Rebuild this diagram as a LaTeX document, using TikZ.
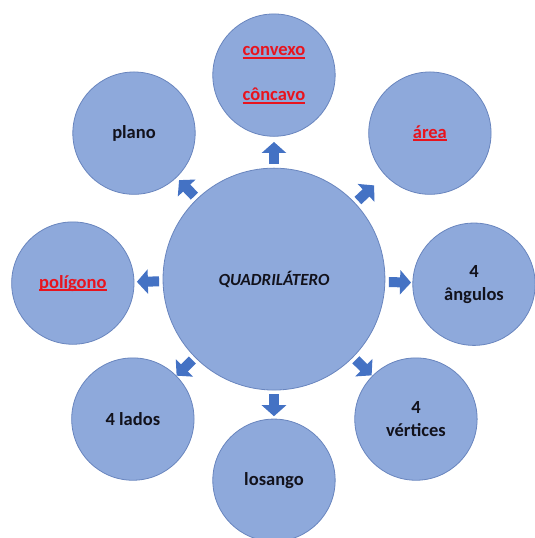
\documentclass[tikz,border=0pt]{standalone}
\usepackage{fontspec}
\setmainfont{Carlito}
\usepackage{xcolor}
\usepackage{tikz}
\usetikzlibrary{arrows.meta,calc}
\definecolor{circfill}{RGB}{142,169,219}
\definecolor{circline}{RGB}{105,133,190}
\definecolor{arrowblue}{RGB}{68,114,196}
\definecolor{txtred}{RGB}{232,20,30}
\definecolor{txtdark}{RGB}{18,18,28}
\newcommand{\redul}[1]{{\color{txtred}\setbox0\hbox{#1}\rlap{\rule[-3pt]{\wd0}{1.6pt}}\box0}}
\newcommand{\bignode}{\node[circle,minimum size=7.8cm,inner sep=0pt,draw=circline,line width=0.8pt,fill=circfill,text=txtdark,font=\fontsize{17}{20}\selectfont\bfseries\itshape]}
\newcommand{\topicnode}{\node[circle,minimum size=4.3cm,inner sep=0pt,draw=circline,line width=0.8pt,fill=circfill,text=txtdark,align=center,font=\fontsize{18.5}{23}\selectfont\bfseries]}
\tikzstyle{blockarrow}=[line width=10pt,draw=arrowblue,-{Triangle[width=24pt,length=11pt]}]

\begin{document}
\begin{tikzpicture}
      \useasboundingbox (-9.63,-9.10) rectangle (9.14,9.81);
      \bignode (quad) at (0,0) {QUADRILÁTERO}; %
      \topicnode (conv) at (0,7.17) {\redul{convexo}\\[22pt]\redul{côncavo}}; %
      \topicnode (plano) at (-4.92,5.13) {plano};
      \topicnode (area) at (5.48,5.13) {\redul{área}}; %
      \topicnode (ang) at (7.03,-0.18) {4\\ângulos};
      \topicnode (poli) at (-7.07,-0.14) {\redul{polígono}}; %
      \topicnode (lados) at (-4.96,-4.92) {4 lados};
      \topicnode (los) at (0,-7.07) {losango};
      \topicnode (vert) at (4.99,-4.92) {4\\vértices}; %
      \draw[blockarrow] ($(quad)!4.04cm!(conv)$) -- ($(quad)!4.82cm!(conv)$);
      \draw[blockarrow] ($(quad)!4.04cm!(plano)$) -- ($(quad)!4.82cm!(plano)$);
      \draw[blockarrow] ($(quad)!4.04cm!(area)$) -- ($(quad)!4.82cm!(area)$);
      \draw[blockarrow] ($(quad)!4.04cm!(ang)$) -- ($(quad)!4.82cm!(ang)$);
      \draw[blockarrow] ($(quad)!4.04cm!(poli)$) -- ($(quad)!4.82cm!(poli)$);
      \draw[blockarrow] ($(quad)!4.04cm!(lados)$) -- ($(quad)!4.82cm!(lados)$);
      \draw[blockarrow] ($(quad)!4.04cm!(los)$) -- ($(quad)!4.82cm!(los)$);
      \draw[blockarrow] ($(quad)!4.04cm!(vert)$) -- ($(quad)!4.82cm!(vert)$);
    \end{tikzpicture}
\end{document}
